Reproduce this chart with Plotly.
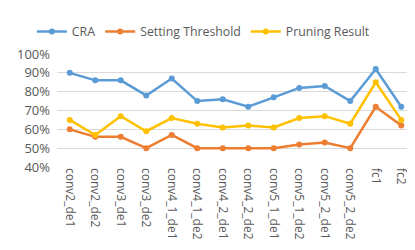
import plotly.graph_objects as go

categories = ["conv2_de1", "conv2_de2", "conv3_de1", "conv3_de2", "conv4_1_de1", "conv4_1_de2",
              "conv4_2_de1", "conv4_2_de2", "conv5_1_de1", "conv5_1_de2", "conv5_2_de1", "conv5_2_de2",
              "fc1", "fc2"]
cra = [0.90, 0.86, 0.86, 0.78, 0.87, 0.75, 0.76, 0.72, 0.77, 0.82, 0.83, 0.75, 0.92, 0.72]
setting_threshold = [0.60, 0.56, 0.56, 0.50, 0.57, 0.50, 0.50, 0.50, 0.50, 0.52, 0.53, 0.50, 0.72, 0.62]
pruning_result = [0.65, 0.57, 0.67, 0.59, 0.66, 0.63, 0.61, 0.62, 0.61, 0.66, 0.67, 0.63, 0.85, 0.65]
y_ticks = [0.4, 0.5, 0.6, 0.7, 0.8, 0.9, 1.0]

series = [("CRA", cra, "#5B9BD5"),
          ("Setting Threshold", setting_threshold, "#ED7D31"),
          ("Pruning Result", pruning_result, "#FFC000")]

fig = go.Figure()
for name, vals, color in series:
    fig.add_trace(go.Scatter(x=categories, y=vals, name=name, mode="lines+markers",
                             line=dict(color=color, width=2.5),
                             marker=dict(color=color, size=6)))

fig.update_layout(
    width=415, height=250,
    margin=dict(l=45, r=9, t=35, b=91),
    paper_bgcolor="white", plot_bgcolor="white",
    font=dict(family="Open Sans", size=12, color="#595959"),
    legend=dict(orientation="h", x=0.41, xanchor="center", y=1.07, yanchor="bottom",
                font=dict(size=12.3, color="#595959"), itemwidth=30, tracegroupgap=0),
    xaxis=dict(range=[-0.5, 13.5], tickangle=90, showgrid=False, showline=False,
               ticks="", tickfont=dict(size=12, color="#595959")),
    yaxis=dict(range=[0.4, 1.0], tickvals=y_ticks, tickformat=".0%", showgrid=True,
               gridcolor="#D9D9D9", gridwidth=1, zeroline=False, showline=False,
               ticks="", ticklabelstandoff=6, tickfont=dict(size=13, color="#595959")),
)

fig.write_html("out.html")
